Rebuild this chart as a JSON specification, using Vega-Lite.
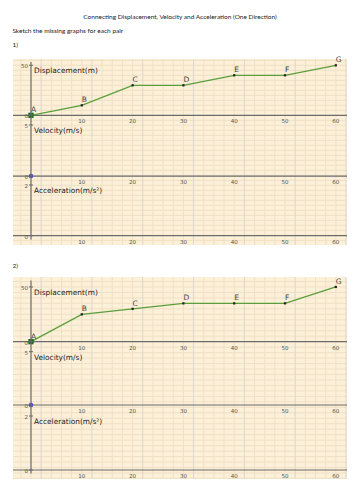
{
"$schema": "https://vega.github.io/schema/vega-lite/v6.json",
"padding": {"left": 12, "top": 14, "right": 7, "bottom": 10},
"title": {"text": "Connecting Displacement, Velocity and Acceleration (One Direction)", "anchor": "middle", "frame": "group", "fontSize": 6.5, "font": "Lato", "fontWeight": "normal", "color": "#222", "offset": 7},
"config": {"view": {"fill": "#fdf0d8", "stroke": null}},
"datasets": {
 "d1": [{"t":0,"s":0,"p":"A"},{"t":10,"s":10,"p":"B"},{"t":20,"s":30,"p":"C"},{"t":30,"s":30,"p":"D"},{"t":40,"s":40,"p":"E"},{"t":50,"s":40,"p":"F"},{"t":60,"s":50,"p":"G"}],
 "d2": [{"t":0,"s":0,"p":"A"},{"t":10,"s":25,"p":"B"},{"t":20,"s":30,"p":"C"},{"t":30,"s":35,"p":"D"},{"t":40,"s":35,"p":"E"},{"t":50,"s":35,"p":"F"},{"t":60,"s":50,"p":"G"}],
 "ticks": [{"t":10},{"t":20},{"t":30},{"t":40},{"t":50},{"t":60}],
 "origin": [{"t":0,"v":0}],
 "dlab": [{"v":50,"l":"50"},{"v":0,"l":"0"}],
 "vlab": [{"v":5,"l":"5"},{"v":0,"l":"0"}],
 "alab": [{"v":2,"l":"2"},{"v":0,"l":"0"}],
 "gx": [{"g":-2},{"g":0},{"g":2},{"g":4},{"g":6},{"g":8},{"g":10},{"g":12},{"g":14},{"g":16},{"g":18},{"g":20},{"g":22},{"g":24},{"g":26},{"g":28},{"g":30},{"g":32},{"g":34},{"g":36},{"g":38},{"g":40},{"g":42},{"g":44},{"g":46},{"g":48},{"g":50},{"g":52},{"g":54},{"g":56},{"g":58},{"g":60},{"g":62}],
 "gy": [{"g":-125},{"g":-120},{"g":-115},{"g":-110},{"g":-105},{"g":-100},{"g":-95},{"g":-90},{"g":-85},{"g":-80},{"g":-75},{"g":-70},{"g":-65},{"g":-60},{"g":-55},{"g":-50},{"g":-45},{"g":-40},{"g":-35},{"g":-30},{"g":-25},{"g":-20},{"g":-15},{"g":-10},{"g":-5},{"g":0},{"g":5},{"g":10},{"g":15},{"g":20},{"g":25},{"g":30},{"g":35},{"g":40},{"g":45},{"g":50},{"g":55}]
},
"spacing": 17,
"vconcat": [
 {
  "width": 334, "height": 186,
  "title": {"text": ["Sketch the missing graphs for each pair", "1)"], "anchor": "start", "fontSize": 6.5, "lineHeight": 14, "offset": 8, "font": "Lato", "fontWeight": "normal", "color": "#222"},
  "resolve": {"scale": {"y": "independent"}},
  "layer": [
   {"layer": [
    {"data": {"name": "gy"}, "mark": {"type": "rule", "color": "#efe0c5", "strokeWidth": 1},
     "encoding": {"y": {"field": "g", "type": "quantitative", "scale": {"domain": [-129.7, 56.3], "nice": false, "zero": false}, "axis": null}}},
    {"data": {"name": "gx"}, "mark": {"type": "rule", "strokeWidth": 1},
     "encoding": {"x": {"field": "g", "type": "quantitative", "scale": {"domain": [-3.54, 62.2], "nice": false, "zero": false}, "axis": null},
      "color": {"condition": {"test": "datum.g % 10 == 2", "value": "#dbd6cd"}, "value": "#efe0c5"}}},
    {"data": {"values": [{}]}, "mark": {"type": "rule", "color": "#6b6b6b", "strokeWidth": 1.2},
     "encoding": {"y": {"datum": 0, "type": "quantitative", "axis": null}}},
    {"data": {"name": "d1"}, "mark": {"type": "line", "color": "#5a9e3c", "strokeWidth": 1.3},
     "encoding": {"x": {"field": "t", "type": "quantitative", "axis": null}, "y": {"field": "s", "type": "quantitative", "axis": null}}},
    {"data": {"name": "d1"}, "transform": [{"filter": "datum.p != 'A'"}], "mark": {"type": "square", "color": "#222", "size": 5, "opacity": 1},
     "encoding": {"x": {"field": "t", "type": "quantitative", "axis": null}, "y": {"field": "s", "type": "quantitative", "axis": null}}},
    {"data": {"name": "d1"}, "transform": [{"filter": "datum.p == 'A'"}], "mark": {"type": "square", "color": "#1c6b1c", "size": 28, "opacity": 1},
     "encoding": {"x": {"field": "t", "type": "quantitative", "axis": null}, "y": {"field": "s", "type": "quantitative", "axis": null}}},
    {"data": {"name": "d1"}, "mark": {"type": "text", "align": "left", "baseline": "bottom", "dx": 0, "dy": -1, "font": "DejaVu Sans", "fontSize": 7.5, "color": "#444"},
     "encoding": {"x": {"field": "t", "type": "quantitative", "axis": null}, "y": {"field": "s", "type": "quantitative", "axis": null}, "text": {"field": "p"}}},
    {"data": {"name": "ticks"}, "mark": {"type": "text", "align": "center", "baseline": "middle", "dy": 6, "font": "DejaVu Sans", "fontSize": 5.5, "color": "#555"},
     "encoding": {"x": {"field": "t", "type": "quantitative", "axis": null}, "y": {"datum": 0, "type": "quantitative", "axis": null}, "text": {"field": "t"}}},
    {"data": {"name": "dlab"}, "mark": {"type": "text", "align": "right", "baseline": "middle", "dx": -3, "dy": 1, "font": "DejaVu Sans", "fontSize": 5.5, "color": "#555"},
     "encoding": {"x": {"datum": 0, "type": "quantitative", "axis": null}, "y": {"field": "v", "type": "quantitative", "axis": null}, "text": {"field": "l"}}},
    {"data": {"name": "dlab"}, "mark": {"type": "rule", "color": "#6b6b6b", "strokeWidth": 1},
     "encoding": {"x": {"datum": -0.4, "type": "quantitative", "axis": null}, "x2": {"datum": 0.4}, "y": {"field": "v", "type": "quantitative", "axis": null}}},
    {"data": {"values": [{}]}, "mark": {"type": "text", "text": "Displacement(m)", "align": "left", "baseline": "top", "dx": 3, "dy": 2, "font": "DejaVu Sans", "fontSize": 7.4, "color": "#222"},
     "encoding": {"x": {"datum": 0, "type": "quantitative", "axis": null}, "y": {"datum": 50, "type": "quantitative", "axis": null}}}
   ]},
   {"layer": [
    {"data": {"values": [{}]}, "mark": {"type": "rule", "color": "#6b6b6b", "strokeWidth": 1.2},
     "encoding": {"y": {"datum": 0, "type": "quantitative", "scale": {"domain": [-6.76, 11.47], "nice": false, "zero": false}, "axis": null}}},
    {"data": {"name": "ticks"}, "mark": {"type": "text", "align": "center", "baseline": "middle", "dy": 6, "font": "DejaVu Sans", "fontSize": 5.5, "color": "#555"},
     "encoding": {"x": {"field": "t", "type": "quantitative", "axis": null}, "y": {"datum": 0, "type": "quantitative", "axis": null}, "text": {"field": "t"}}},
    {"data": {"name": "vlab"}, "mark": {"type": "text", "align": "right", "baseline": "middle", "dx": -3, "dy": 1, "font": "DejaVu Sans", "fontSize": 5.5, "color": "#555"},
     "encoding": {"x": {"datum": 0, "type": "quantitative", "axis": null}, "y": {"field": "v", "type": "quantitative", "axis": null}, "text": {"field": "l"}}},
    {"data": {"name": "vlab"}, "mark": {"type": "rule", "color": "#6b6b6b", "strokeWidth": 1},
     "encoding": {"x": {"datum": -0.4, "type": "quantitative", "axis": null}, "x2": {"datum": 0.4}, "y": {"field": "v", "type": "quantitative", "axis": null}}},
    {"data": {"name": "origin"}, "mark": {"type": "circle", "color": "#5050c8", "size": 22, "opacity": 1},
     "encoding": {"x": {"field": "t", "type": "quantitative", "axis": null}, "y": {"field": "v", "type": "quantitative", "axis": null}}},
    {"data": {"values": [{}]}, "mark": {"type": "text", "text": "Velocity(m/s)", "align": "left", "baseline": "top", "dx": 3, "dy": 2, "font": "DejaVu Sans", "fontSize": 7.4, "color": "#222"},
     "encoding": {"x": {"datum": 0, "type": "quantitative", "axis": null}, "y": {"datum": 5, "type": "quantitative", "axis": null}}}
   ]},
   {"layer": [
    {"data": {"values": [{}]}, "mark": {"type": "rule", "color": "#6b6b6b", "strokeWidth": 1.2},
     "encoding": {"y": {"datum": 0, "type": "quantitative", "scale": {"domain": [-0.367, 6.97], "nice": false, "zero": false}, "axis": null}}},
    {"data": {"values": [{}]}, "mark": {"type": "rule", "color": "#6b6b6b", "strokeWidth": 1.2},
     "encoding": {"x": {"datum": 0, "type": "quantitative", "axis": null}, "y": {"datum": -0.15, "type": "quantitative", "axis": null}, "y2": {"datum": 6.85}}},
    {"data": {"name": "ticks"}, "mark": {"type": "text", "align": "center", "baseline": "middle", "dy": 6, "font": "DejaVu Sans", "fontSize": 5.5, "color": "#555"},
     "encoding": {"x": {"field": "t", "type": "quantitative", "axis": null}, "y": {"datum": 0, "type": "quantitative", "axis": null}, "text": {"field": "t"}}},
    {"data": {"name": "alab"}, "mark": {"type": "text", "align": "right", "baseline": "middle", "dx": -3, "dy": 1, "font": "DejaVu Sans", "fontSize": 5.5, "color": "#555"},
     "encoding": {"x": {"datum": 0, "type": "quantitative", "axis": null}, "y": {"field": "v", "type": "quantitative", "axis": null}, "text": {"field": "l"}}},
    {"data": {"name": "alab"}, "mark": {"type": "rule", "color": "#6b6b6b", "strokeWidth": 1},
     "encoding": {"x": {"datum": -0.4, "type": "quantitative", "axis": null}, "x2": {"datum": 0.4}, "y": {"field": "v", "type": "quantitative", "axis": null}}},
    {"data": {"values": [{}]}, "mark": {"type": "text", "text": "Acceleration(m/s²)", "align": "left", "baseline": "top", "dx": 3, "dy": 2, "font": "DejaVu Sans", "fontSize": 7.4, "color": "#222"},
     "encoding": {"x": {"datum": 0, "type": "quantitative", "axis": null}, "y": {"datum": 2, "type": "quantitative", "axis": null}}}
   ]}
  ]
 },
 {
  "width": 334, "height": 202,
  "title": {"text": "2)", "anchor": "start", "fontSize": 6.5, "offset": 7, "font": "Lato", "fontWeight": "normal", "color": "#222"},
  "resolve": {"scale": {"y": "independent"}},
  "layer": [
   {"layer": [
    {"data": {"name": "gy"}, "mark": {"type": "rule", "color": "#efe0c5", "strokeWidth": 1},
     "encoding": {"y": {"field": "g", "type": "quantitative", "scale": {"domain": [-125.5, 59.1], "nice": false, "zero": false}, "axis": null}}},
    {"data": {"name": "gx"}, "mark": {"type": "rule", "strokeWidth": 1},
     "encoding": {"x": {"field": "g", "type": "quantitative", "scale": {"domain": [-3.54, 62.2], "nice": false, "zero": false}, "axis": null},
      "color": {"condition": {"test": "datum.g % 10 == 2", "value": "#dbd6cd"}, "value": "#efe0c5"}}},
    {"data": {"values": [{}]}, "mark": {"type": "rule", "color": "#6b6b6b", "strokeWidth": 1.2},
     "encoding": {"y": {"datum": 0, "type": "quantitative", "axis": null}}},
    {"data": {"name": "d2"}, "mark": {"type": "line", "color": "#5a9e3c", "strokeWidth": 1.3},
     "encoding": {"x": {"field": "t", "type": "quantitative", "axis": null}, "y": {"field": "s", "type": "quantitative", "axis": null}}},
    {"data": {"name": "d2"}, "transform": [{"filter": "datum.p != 'A'"}], "mark": {"type": "square", "color": "#222", "size": 5, "opacity": 1},
     "encoding": {"x": {"field": "t", "type": "quantitative", "axis": null}, "y": {"field": "s", "type": "quantitative", "axis": null}}},
    {"data": {"name": "d2"}, "transform": [{"filter": "datum.p == 'A'"}], "mark": {"type": "square", "color": "#1c6b1c", "size": 28, "opacity": 1},
     "encoding": {"x": {"field": "t", "type": "quantitative", "axis": null}, "y": {"field": "s", "type": "quantitative", "axis": null}}},
    {"data": {"name": "d2"}, "mark": {"type": "text", "align": "left", "baseline": "bottom", "dx": 0, "dy": -1, "font": "DejaVu Sans", "fontSize": 7.5, "color": "#444"},
     "encoding": {"x": {"field": "t", "type": "quantitative", "axis": null}, "y": {"field": "s", "type": "quantitative", "axis": null}, "text": {"field": "p"}}},
    {"data": {"name": "ticks"}, "mark": {"type": "text", "align": "center", "baseline": "middle", "dy": 6, "font": "DejaVu Sans", "fontSize": 5.5, "color": "#555"},
     "encoding": {"x": {"field": "t", "type": "quantitative", "axis": null}, "y": {"datum": 0, "type": "quantitative", "axis": null}, "text": {"field": "t"}}},
    {"data": {"name": "dlab"}, "mark": {"type": "text", "align": "right", "baseline": "middle", "dx": -3, "dy": 1, "font": "DejaVu Sans", "fontSize": 5.5, "color": "#555"},
     "encoding": {"x": {"datum": 0, "type": "quantitative", "axis": null}, "y": {"field": "v", "type": "quantitative", "axis": null}, "text": {"field": "l"}}},
    {"data": {"name": "dlab"}, "mark": {"type": "rule", "color": "#6b6b6b", "strokeWidth": 1},
     "encoding": {"x": {"datum": -0.4, "type": "quantitative", "axis": null}, "x2": {"datum": 0.4}, "y": {"field": "v", "type": "quantitative", "axis": null}}},
    {"data": {"values": [{}]}, "mark": {"type": "text", "text": "Displacement(m)", "align": "left", "baseline": "top", "dx": 3, "dy": 2, "font": "DejaVu Sans", "fontSize": 7.4, "color": "#222"},
     "encoding": {"x": {"datum": 0, "type": "quantitative", "axis": null}, "y": {"datum": 50, "type": "quantitative", "axis": null}}}
   ]},
   {"layer": [
    {"data": {"values": [{}]}, "mark": {"type": "rule", "color": "#6b6b6b", "strokeWidth": 1.2},
     "encoding": {"y": {"datum": 0, "type": "quantitative", "scale": {"domain": [-6.94, 12.0], "nice": false, "zero": false}, "axis": null}}},
    {"data": {"name": "ticks"}, "mark": {"type": "text", "align": "center", "baseline": "middle", "dy": 6, "font": "DejaVu Sans", "fontSize": 5.5, "color": "#555"},
     "encoding": {"x": {"field": "t", "type": "quantitative", "axis": null}, "y": {"datum": 0, "type": "quantitative", "axis": null}, "text": {"field": "t"}}},
    {"data": {"name": "vlab"}, "mark": {"type": "text", "align": "right", "baseline": "middle", "dx": -3, "dy": 1, "font": "DejaVu Sans", "fontSize": 5.5, "color": "#555"},
     "encoding": {"x": {"datum": 0, "type": "quantitative", "axis": null}, "y": {"field": "v", "type": "quantitative", "axis": null}, "text": {"field": "l"}}},
    {"data": {"name": "vlab"}, "mark": {"type": "rule", "color": "#6b6b6b", "strokeWidth": 1},
     "encoding": {"x": {"datum": -0.4, "type": "quantitative", "axis": null}, "x2": {"datum": 0.4}, "y": {"field": "v", "type": "quantitative", "axis": null}}},
    {"data": {"name": "origin"}, "mark": {"type": "circle", "color": "#5050c8", "size": 22, "opacity": 1},
     "encoding": {"x": {"field": "t", "type": "quantitative", "axis": null}, "y": {"field": "v", "type": "quantitative", "axis": null}}},
    {"data": {"values": [{}]}, "mark": {"type": "text", "text": "Velocity(m/s)", "align": "left", "baseline": "top", "dx": 3, "dy": 2, "font": "DejaVu Sans", "fontSize": 7.4, "color": "#222"},
     "encoding": {"x": {"datum": 0, "type": "quantitative", "axis": null}, "y": {"datum": 5, "type": "quantitative", "axis": null}}}
   ]},
   {"layer": [
    {"data": {"values": [{}]}, "mark": {"type": "rule", "color": "#6b6b6b", "strokeWidth": 1.2},
     "encoding": {"y": {"datum": 0, "type": "quantitative", "scale": {"domain": [-0.333, 7.15], "nice": false, "zero": false}, "axis": null}}},
    {"data": {"values": [{}]}, "mark": {"type": "rule", "color": "#6b6b6b", "strokeWidth": 1.2},
     "encoding": {"x": {"datum": 0, "type": "quantitative", "axis": null}, "y": {"datum": -0.13, "type": "quantitative", "axis": null}, "y2": {"datum": 7.02}}},
    {"data": {"name": "ticks"}, "mark": {"type": "text", "align": "center", "baseline": "middle", "dy": 6, "font": "DejaVu Sans", "fontSize": 5.5, "color": "#555"},
     "encoding": {"x": {"field": "t", "type": "quantitative", "axis": null}, "y": {"datum": 0, "type": "quantitative", "axis": null}, "text": {"field": "t"}}},
    {"data": {"name": "alab"}, "mark": {"type": "text", "align": "right", "baseline": "middle", "dx": -3, "dy": 1, "font": "DejaVu Sans", "fontSize": 5.5, "color": "#555"},
     "encoding": {"x": {"datum": 0, "type": "quantitative", "axis": null}, "y": {"field": "v", "type": "quantitative", "axis": null}, "text": {"field": "l"}}},
    {"data": {"name": "alab"}, "mark": {"type": "rule", "color": "#6b6b6b", "strokeWidth": 1},
     "encoding": {"x": {"datum": -0.4, "type": "quantitative", "axis": null}, "x2": {"datum": 0.4}, "y": {"field": "v", "type": "quantitative", "axis": null}}},
    {"data": {"values": [{}]}, "mark": {"type": "text", "text": "Acceleration(m/s²)", "align": "left", "baseline": "top", "dx": 3, "dy": 2, "font": "DejaVu Sans", "fontSize": 7.4, "color": "#222"},
     "encoding": {"x": {"datum": 0, "type": "quantitative", "axis": null}, "y": {"datum": 2, "type": "quantitative", "axis": null}}}
   ]}
  ]
 }
]
}
